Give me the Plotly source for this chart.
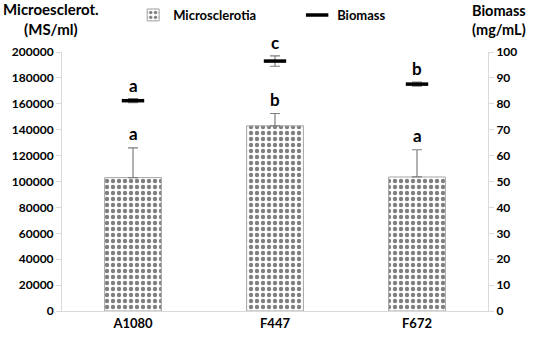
import plotly.graph_objects as go

categories = ["A1080", "F447", "F672"]
microsclerotia = [103000, 143000, 103500]
microsclerotia_err = [23000, 9500, 21000]
biomass = [81.2, 96.5, 87.6]
biomass_err = [0.8, 2.0, 0.8]
bar_letters = ["a", "b", "a"]
biomass_letters = ["a", "c", "b"]

FONT = "Lato"

fig = go.Figure()
fig.add_trace(go.Bar(
    x=categories, y=microsclerotia, name="Microsclerotia",
    width=0.4,
    marker=dict(color="white", line=dict(color="#a6a6a6", width=1),
                pattern=dict(shape=".", fgcolor="black", bgcolor="white", size=6, solidity=0.42)),
    error_y=dict(type="data", array=microsclerotia_err, symmetric=False, arrayminus=[0, 0, 0],
                 color="#7f7f7f", thickness=1.2, width=5),
))
fig.add_trace(go.Scatter(
    x=categories, y=biomass, name="Biomass", yaxis="y2", mode="markers",
    marker=dict(symbol="line-ew", size=16, line=dict(color="black", width=3.5), color="black"),
    error_y=dict(type="data", array=biomass_err, color="#7f7f7f", thickness=1.2, width=5),
))

ann = []
for c, v, e, t in zip(categories, microsclerotia, microsclerotia_err, bar_letters):
    ann.append(dict(x=c, y=v + e, yref="y", xref="x", text=t, showarrow=False,
                    yanchor="bottom", yshift=2, font=dict(family=FONT, size=17, color="black", weight="bold")))
for c, v, e, t in zip(categories, biomass, biomass_err, biomass_letters):
    ann.append(dict(x=c, y=v + e, yref="y2", xref="x", text=t, showarrow=False,
                    yanchor="bottom", yshift=1, font=dict(family=FONT, size=17, color="black", weight="bold")))
ann.append(dict(x=0.0, y=1.0, xref="paper", yref="paper", xshift=-11, yshift=12,
                text="Microesclerot.<br>(MS/ml)", showarrow=False, xanchor="center", yanchor="bottom",
                font=dict(family=FONT, size=15, color="black", weight="bold")))
ann.append(dict(x=1.0, y=1.0, xref="paper", yref="paper", xshift=11, yshift=12,
                text="Biomass<br>(mg/mL)", showarrow=False, xanchor="center", yanchor="bottom",
                font=dict(family=FONT, size=14.5, color="black", weight="bold")))

axis_common = dict(showgrid=False, zeroline=False, showline=True, linecolor="#d9d9d9", linewidth=1,
                   ticks="outside", tickcolor="#d9d9d9", ticklen=5, tickformat="d", automargin=False,
                   tickfont=dict(family=FONT, size=12, color="black", weight="bold"))

fig.update_layout(
    width=534, height=338,
    margin=dict(l=62, r=46, t=52, b=27),
    plot_bgcolor="white", paper_bgcolor="white",
    font=dict(family=FONT, color="black"),
    xaxis=dict(showgrid=False, showline=True, linecolor="#d9d9d9", ticks="", automargin=False,
               tickfont=dict(family=FONT, size=13, color="black", weight="bold"),
               range=[-0.5, 2.5]),
    yaxis=dict(range=[0, 200000], dtick=20000, **axis_common),
    yaxis2=dict(range=[0, 100], dtick=10, overlaying="y", side="right", **axis_common),
    legend=dict(orientation="h", x=0.167, xanchor="left", y=1.0, yanchor="top", yref="container",
                font=dict(family=FONT, size=13, color="black", weight="bold"), entrywidth=119,
                itemwidth=30, bgcolor="rgba(0,0,0,0)"),
    annotations=ann,
    showlegend=True,
)
fig.write_html("out.html", config={"displayModeBar": False},
               post_script="document.body.style.margin='0px';")
